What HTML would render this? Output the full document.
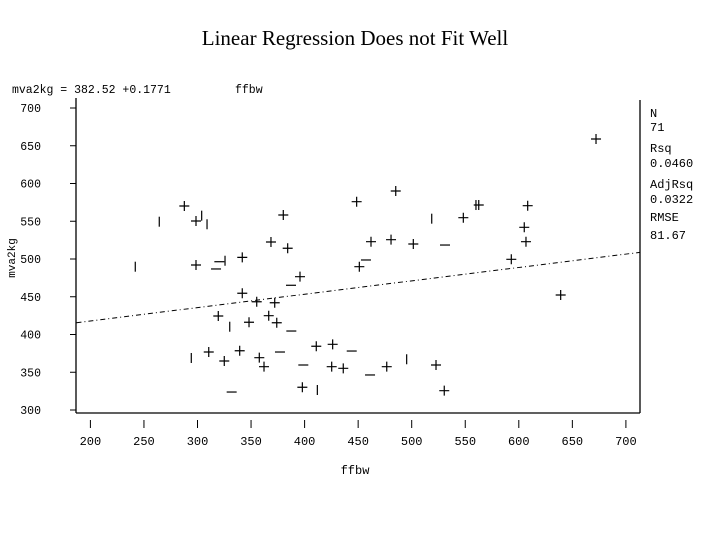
<!DOCTYPE html>
<html><head><meta charset="utf-8"><style>
body{margin:0;background:#fff}
svg text{font-family:"Liberation Mono",monospace;font-size:12px;fill:#000}
</style></head><body>
<svg width="720" height="540">
<text x="355" y="45" text-anchor="middle" style="font-family:'Liberation Serif',serif;font-size:21px">Linear Regression Does not Fit Well</text>
<text x="12" y="93" style="font-size:11.5px">mva2kg = 382.52 +0.1771</text>
<text x="235" y="93" style="font-size:11.5px">ffbw</text>
<g id="frame" stroke="#000" stroke-width="1.3" fill="none">
<line x1="76" y1="98" x2="76" y2="413"/>
<line x1="76" y1="413" x2="640" y2="413"/>
<line x1="640" y1="100" x2="640" y2="413"/>
</g>
<g id="yax"></g>
<g id="xax"></g>
<text transform="translate(15,258) rotate(-90)" text-anchor="middle" style="font-size:11px">mva2kg</text>
<text x="355" y="474" text-anchor="middle">ffbw</text>
<g id="line"></g>
<g id="pts"></g>
<g id="stats"></g>
</svg>
<script>
const xTicks=[200,250,300,350,400,450,500,550,600,650,700];
const yTicks=[300,350,400,450,500,550,600,650,700];
const ptX=[287.7,264.3,298.6,303.9,308.9,380.1,448.6,241.9,298.6,320.4,325.7,317.3,341.8,368.6,384.2,395.7,387.3,451.1,457.3,341.8,355.3,372.1,319.4,348.1,330.1,366.5,374.0,387.6,294.2,310.5,325.0,339.4,357.7,362.1,377.0,398.8,410.9,426.2,444.0,425.3,436.1,331.9,397.9,411.9,672.1,485.1,562.6,608.3,518.7,548.2,605.1,462.0,480.7,501.5,531.1,606.7,593.0,639.1,461.1,476.7,495.3,522.7,530.4,560.0];
const ptY=[570.2,549.4,550.3,557.4,546.0,558.3,575.9,489.8,492.1,496.4,497.7,486.8,502.2,522.5,514.2,476.6,465.2,489.8,498.7,454.6,443.4,442.1,424.5,416.2,410.3,424.9,415.6,404.6,368.9,376.8,364.9,378.5,369.3,357.4,376.8,359.6,384.4,387.0,378.1,357.4,355.2,323.8,330.1,326.5,658.9,590.1,571.5,570.6,553.4,554.7,542.0,522.9,525.6,519.9,518.5,522.9,499.6,452.3,346.4,357.4,367.2,359.6,325.6,571.5];
const ptSym=["+","|","+","|","|","+","+","|","+","-","|","-","+","+","+","+","-","+","-","+","+","+","+","+","|","+","+","-","|","+","+","+","+","+","-","-","+","+","-","+","+","-","+","|","+","+","+","+","|","+","+","+","+","+","-","+","+","+","-","+","|","+","+","|"];
const intercept=382.52, slope=0.1771;
const statLabels=["N","71","Rsq","0.0460","AdjRsq","0.0322","RMSE","81.67"];
const NS="http://www.w3.org/2000/svg";
const sx=v=>90.4+(v-200)*1.071;
const sy=v=>108+(700-v)*0.755;
function mk(tag,a,p){const e=document.createElementNS(NS,tag);for(const k in a)e.setAttribute(k,a[k]);p.appendChild(e);return e;}
const yax=document.getElementById('yax'),xax=document.getElementById('xax');
yTicks.forEach(v=>{
 const l=mk('line',{x1:70,x2:76,y1:sy(v),y2:sy(v),stroke:'#000'},yax);
 
 
 const t=mk('text',{x:41,y:sy(v)+4,'text-anchor':'end','style':'font-size:11.5px'},yax);t.textContent=v;
 
 
});
xTicks.forEach(v=>{
 const l=mk('line',{x1:sx(v),x2:sx(v),y1:420,y2:428,stroke:'#000'},xax);
 
 
 const t=mk('text',{x:sx(v),y:445,'text-anchor':'middle'},xax);t.textContent=v;
 
 
});
const x0=187,x1=713;
const rl=mk('line',{x1:sx(x0),y1:sy(intercept+slope*x0),x2:sx(x1),y2:sy(intercept+slope*x1),stroke:'#000','stroke-width':1,'stroke-dasharray':'5 3 1 3'},document.getElementById('line'));


const pts=document.getElementById('pts');
ptX.forEach((v,i)=>{
 const x=sx(v),y=sy(ptY[i]),s=ptSym[i];let d;
 if(s=="+")d=`M${x-5},${y}H${x+5}M${x},${y-5}V${y+5}`;
 else if(s=="|")d=`M${x},${y-5}V${y+5}`;
 else d=`M${x-5},${y}H${x+5}`;
 const p=mk('path',{d:d,stroke:'#000','stroke-width':1.2,fill:'none'},pts);
 
 
});
const st=document.getElementById('stats');
const sys=[117,131,152,167,188,203,221,239];
statLabels.forEach((s,i)=>{
 const t=mk('text',{x:650,y:sys[i]},st);t.textContent=s;
 
 
});
</script>
</body></html>
